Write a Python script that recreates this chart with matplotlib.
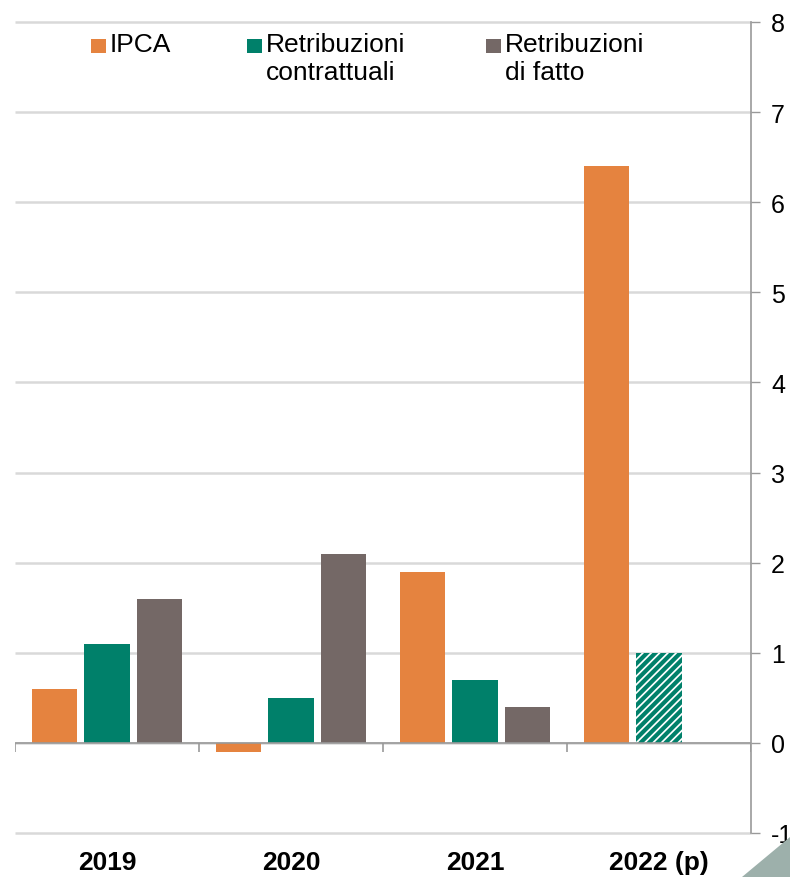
import matplotlib
matplotlib.use('Agg')
import matplotlib.pyplot as plt
from matplotlib.patches import Rectangle, Polygon
import numpy as np

years = ['2019', '2020', '2021', '2022 (p)']
ipca = [0.6, -0.1, 1.9, 6.4]
contrattuali = [1.1, 0.5, 0.7, 1.0]
di_fatto = [1.6, 2.1, 0.4, np.nan]
y_ticks = [-1, 0, 1, 2, 3, 4, 5, 6, 7, 8]

ORANGE = '#E5833F'
GREEN = '#00806A'
GREY = '#746866'
AXIS = '#999999'
GRID = '#D9D9D9'

plt.rcParams['font.family'] = ['Liberation Sans Narrow', 'Liberation Sans', 'DejaVu Sans']
plt.rcParams['hatch.linewidth'] = 3.0
plt.rcParams['axes.unicode_minus'] = False


def main():
  fig = plt.figure(figsize=(7.9, 8.78), dpi=100)
  ax = fig.add_axes([15 / 790, 44 / 878, 736 / 790, 811 / 878])
  draw_bars(ax)
  style_axes(ax)
  draw_legend(fig)
  # decorative corner
  fig.patches.append(Polygon([[742 / 790, 0], [1, 0], [1, 40 / 878]],
                             closed=True, transform=fig.transFigure,
                             facecolor='#9DB0AB', edgecolor='none'))
  fig.savefig('out.png', dpi=100)


def draw_bars(ax):
  x = np.arange(len(years))
  off = 0.283
  w = 0.245
  ax.bar(x - off, ipca, w, color=ORANGE, zorder=3)
  # last contractual value is a forecast: hatched
  ax.bar(x[:-1], contrattuali[:-1], w, color=GREEN, zorder=3)
  ax.bar(x[-1:], contrattuali[-1:], w, facecolor='white', edgecolor=GREEN,
         hatch='////', linewidth=0, zorder=3)
  ax.bar(x + off, di_fatto, w, color=GREY, zorder=3)
  ax.axhline(0, color=AXIS, lw=1.2, zorder=4)
  ax.vlines(np.arange(len(years) + 1) - 0.5, -0.1, 0, color=AXIS, lw=1.2, zorder=4)


def style_axes(ax):
  ax.set_xlim(-0.5, len(years) - 0.5)
  ax.set_ylim(-1, 8)
  ax.set_yticks(y_ticks)
  ax.yaxis.tick_right()
  ax.tick_params(axis='y', direction='out', length=6.5, width=1, color=AXIS,
                 labelsize=18, pad=8, labelcolor='black')
  ax.set_xticks(np.arange(len(years)))
  ax.set_xticklabels(years, fontsize=19, fontweight='bold')
  ax.tick_params(axis='x', length=0, pad=12)
  ax.hlines(y_ticks, -0.5, len(years) - 0.5, color=GRID, lw=1.8, zorder=0,
            clip_on=False)
  for s in ['top', 'left', 'bottom']:
    ax.spines[s].set_visible(False)
  ax.spines['right'].set_color(AXIS)
  ax.spines['right'].set_linewidth(1.2)
  ax.spines['right'].set_zorder(5)


def draw_legend(fig):
  entries = [(ORANGE, 'IPCA', 91),
             (GREEN, 'Retribuzioni\ncontrattuali', 247),
             (GREY, 'Retribuzioni\ndi fatto', 486)]
  for color, label, xpx in entries:
    fig.patches.append(Rectangle((xpx / 790, (878 - 54) / 878), 15 / 790, 14 / 878,
                                 transform=fig.transFigure, facecolor=color,
                                 edgecolor='none'))
    fig.text((xpx + 19) / 790, (878 - 33) / 878, label, fontsize=19,
             va='top', ha='left', linespacing=1.2)


if __name__ == '__main__':
  main()
